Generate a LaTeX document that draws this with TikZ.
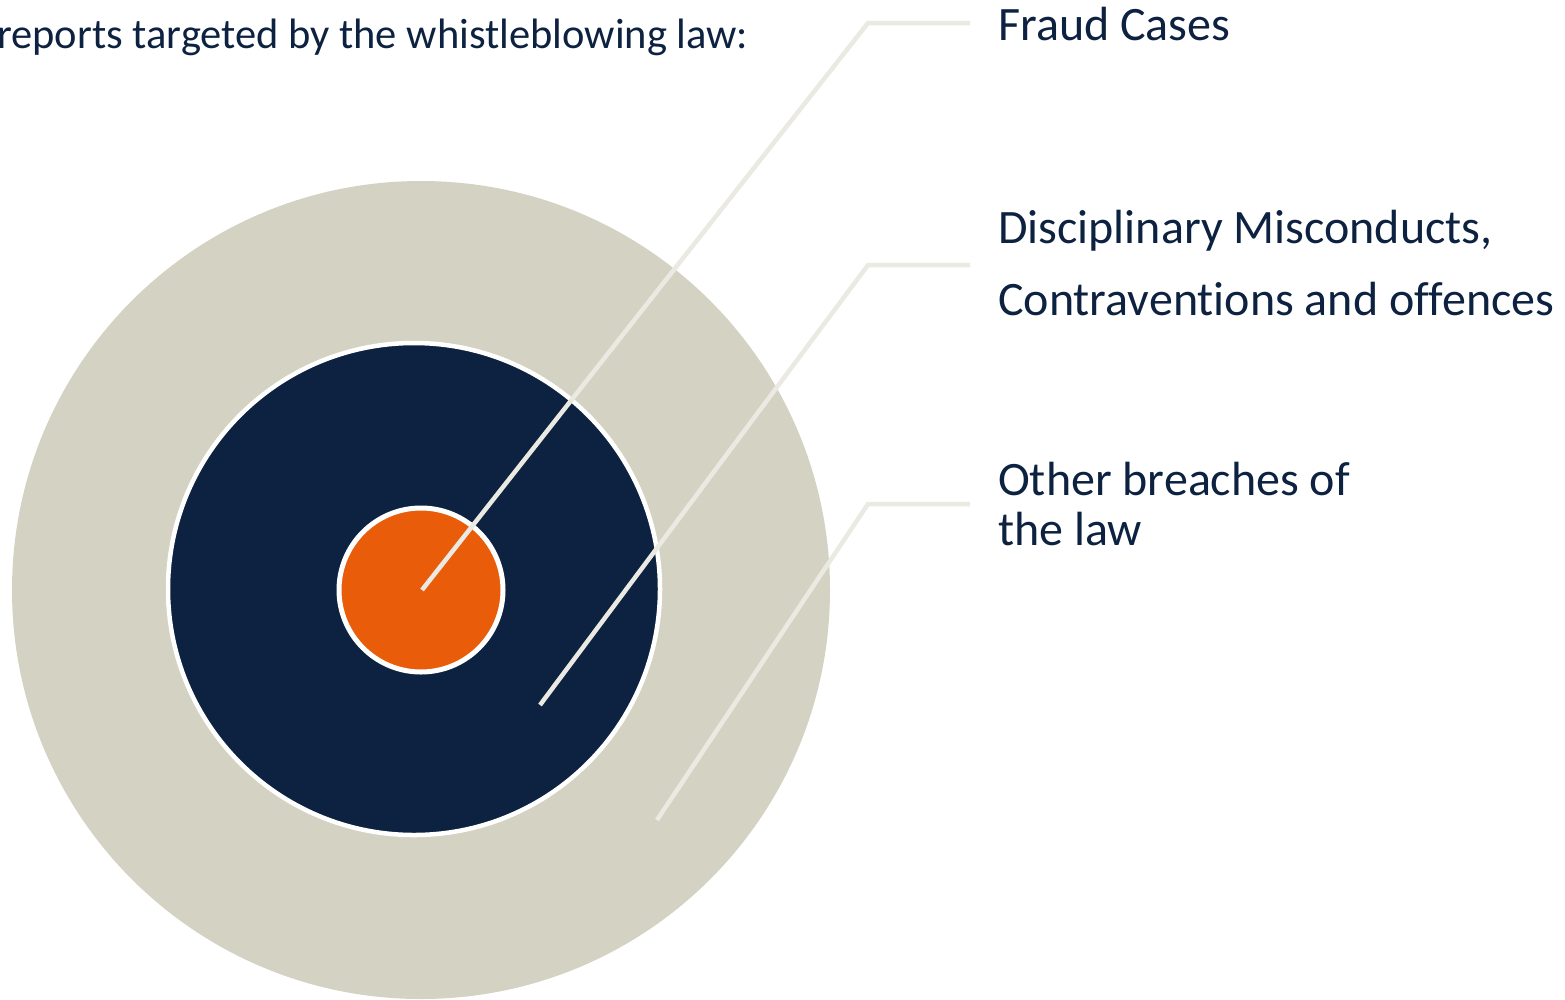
\documentclass[tikz,border=0pt]{standalone}
\usepackage{fontspec}
\setmainfont{Carlito}[Ligatures=NoCommon]
\usetikzlibrary{positioning}
\definecolor{navy}{HTML}{0D2240}
\definecolor{sand}{HTML}{D4D2C3}
\definecolor{flame}{HTML}{E95D0A}
\definecolor{leader}{HTML}{EAE9E2}
\tikzset{
  ring/.style={circle, inner sep=0pt, outer sep=0pt},
  leaderline/.style={line width=4.5, color=leader},
  caption/.style={anchor=base west, inner sep=0pt, text=navy, align=left}
}

\begin{document}
\begin{tikzpicture}[x=1pt,y=-1pt]
\useasboundingbox (0,0) rectangle (1565,999);
% target rings
\node[ring, fill=sand, minimum size=818] (outer) at (421,590) {};
\node[ring, fill=navy, draw=white, line width=4.5, minimum size=492] (middle) at (414,589) {};
\node[ring, fill=flame, draw=white, line width=5, minimum size=164] (inner) at (421,590) {};
% title
\node[caption, font=\fontsize{42.5}{50}\selectfont] (title) at (-3,48) {reports targeted by the whistleblowing law:};
% labels (base = last line)
\node[caption, font=\fontsize{48}{56}\selectfont] (fraud) at (998,40) {Fraud Cases};
\node[caption, font=\fontsize{48}{72}\selectfont] (discipline) at (998,315) {Disciplinary Misconducts,\\Contraventions and offences};
\node[caption, font=\fontsize{48}{50}\selectfont] (breach) at (998,545) {Other breaches of\\the law};
% leader lines
\coordinate (fraudtip) at (422,590);
\coordinate (fraudbend) at (868,23);
\coordinate (fraudend) at (970,23);
\coordinate (disciplinetip) at (540,705);
\coordinate (disciplinebend) at (868,265);
\coordinate (disciplineend) at (970,265);
\coordinate (breachtip) at (657,820);
\coordinate (breachbend) at (868,504);
\coordinate (breachend) at (970,504);
\draw[leaderline] (fraudtip) -- (fraudbend) -- (fraudend);
\draw[leaderline] (disciplinetip) -- (disciplinebend) -- (disciplineend);
\draw[leaderline] (breachtip) -- (breachbend) -- (breachend);
\end{tikzpicture}
\end{document}
